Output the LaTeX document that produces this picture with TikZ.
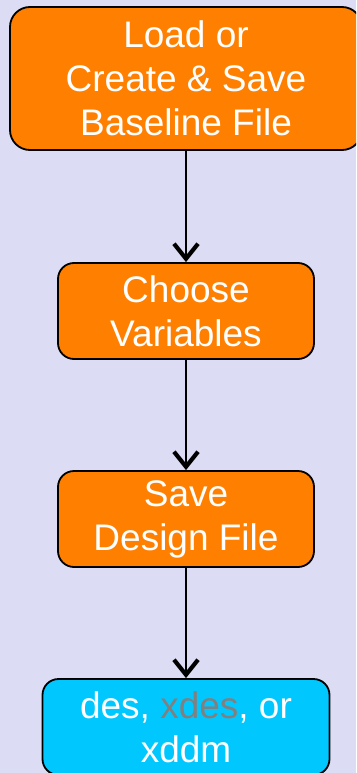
\documentclass[tikz,border=0pt]{standalone}
\usepackage{fontspec}
\setmainfont{Liberation Sans}
\usetikzlibrary{arrows.meta}
\definecolor{bgcol}{RGB}{220,220,244}
\definecolor{stepfill}{RGB}{255,127,0}
\definecolor{outfill}{RGB}{0,200,255}
\definecolor{greytext}{RGB}{128,128,128}
\tikzset{
  flowbox/.style={draw=black, line width=1.8pt, fill=stepfill, text=white,
    align=center, inner sep=0pt, rounded corners=16pt,
    font=\fontsize{37}{44}\selectfont},
  flowarrow/.style={line width=2pt,
    -{Straight Barb[length=15pt,width=24pt,line width=4.2pt]}}
}
\begin{document}
\begin{tikzpicture}[x=1pt,y=-1pt]
  \fill[bgcol] (0,0) rectangle (356,773);
  \useasboundingbox (0,0) rectangle (356,773);
  \begin{scope}
    \clip (0,0) rectangle (356,773);
    \node[flowbox, rounded corners=20pt, minimum width=352pt, minimum height=143pt]
      (load) at (186,78.5) {Load or\\Create \& Save\\Baseline File};
    \node[flowbox, minimum width=256pt, minimum height=96pt]
      (choose) at (186,311) {Choose\\Variables};
    \node[flowbox, minimum width=256pt, minimum height=96pt]
      (save) at (186,519) {Save\\Design File};
    \node[flowbox, fill=outfill, minimum width=287pt, minimum height=96pt]
      (out) at (186,727) {des, \textcolor{greytext}{xdes}, or\\xddm};
  \end{scope}
  \draw[flowarrow] (load.south) -- (choose.north);
  \draw[flowarrow] (choose.south) -- (save.north);
  \draw[flowarrow] (save.south) -- (out.north);
\end{tikzpicture}
\end{document}
